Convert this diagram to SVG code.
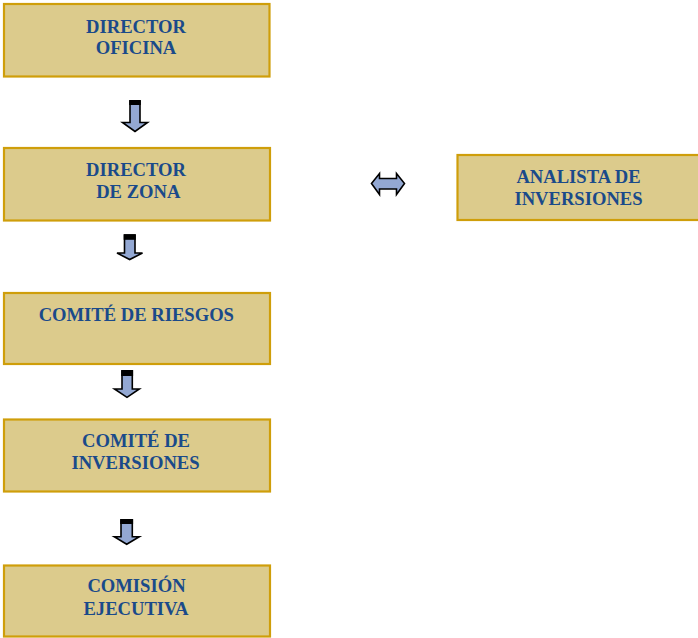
<svg xmlns="http://www.w3.org/2000/svg" width="698" height="638" viewBox="0 0 698 638">
<style>
.box{fill:#DCCB8C;stroke:#CF9E0A;stroke-width:2.2}
.t{font-family:"Liberation Serif","Times New Roman",serif;font-weight:bold;font-size:18.6px;fill:#1A4A8A;text-anchor:middle}
.arr{fill:#93A8D3;stroke:#000;stroke-width:1.6;stroke-linejoin:miter}
.cap{fill:#000}
</style>
<rect width="698" height="638" fill="#fff"/>
<g id="director-oficina">
<rect class="box" x="4" y="4" width="265.5" height="72.5"/>
<text class="t" x="136" y="33">DIRECTOR</text>
<text class="t" x="136" y="54">OFICINA</text>
</g>
<g id="director-zona">
<rect class="box" x="4" y="148" width="266" height="72.5"/>
<text class="t" x="136" y="176">DIRECTOR</text>
<text class="t" x="138.3" y="198">DE ZONA</text>
</g>
<g id="comite-riesgos">
<rect class="box" x="4" y="293" width="266" height="71"/>
<text class="t" x="136.3" y="321">COMITÉ DE RIESGOS</text>
</g>
<g id="comite-inversiones">
<rect class="box" x="4" y="419.5" width="266" height="72"/>
<text class="t" x="136" y="447">COMITÉ DE</text>
<text class="t" x="135.5" y="469">INVERSIONES</text>
</g>
<g id="comision-ejecutiva">
<rect class="box" x="4" y="565.5" width="266" height="71"/>
<text class="t" x="136.5" y="592">COMISIÓN</text>
<text class="t" x="136" y="615">EJECUTIVA</text>
</g>
<g id="analista-inversiones">
<rect class="box" x="457.5" y="155" width="245" height="65"/>
<text class="t" x="578.5" y="183">ANALISTA DE</text>
<text class="t" x="578.5" y="205">INVERSIONES</text>
</g>
<g id="connectors">
<g id="a1">
<path class="arr" d="M130,101 H140 V122.5 H147.5 L135,131.5 L122.5,122.5 H130 Z"/>
<rect class="cap" x="129.2" y="100" width="11.6" height="5"/>
</g>
<g id="a2">
<path class="arr" d="M124.5,235 H135 V253 H142.5 L129.7,259.5 L117,253 H124.5 Z"/>
<rect class="cap" x="123.7" y="234.3" width="12.1" height="5.5"/>
</g>
<g id="a3">
<path class="arr" d="M122,371 H132.3 V389 H139.3 L127,397.3 L114.5,389 H122 Z"/>
<rect class="cap" x="121.2" y="370" width="11.9" height="6"/>
</g>
<g id="a4">
<path class="arr" d="M121,520 H132.3 V536.7 H139.3 L126.7,544.3 L114.3,536.7 H121 Z"/>
<rect class="cap" x="120.2" y="519" width="12.9" height="5"/>
</g>
<g id="a5">
<path class="arr" d="M371.5,183.5 L379.5,173.5 V178.5 H396.5 V173.5 L404.5,183.5 L396.5,194.5 V189 H379.5 V194.5 Z"/>
</g>
</g>
</svg>
